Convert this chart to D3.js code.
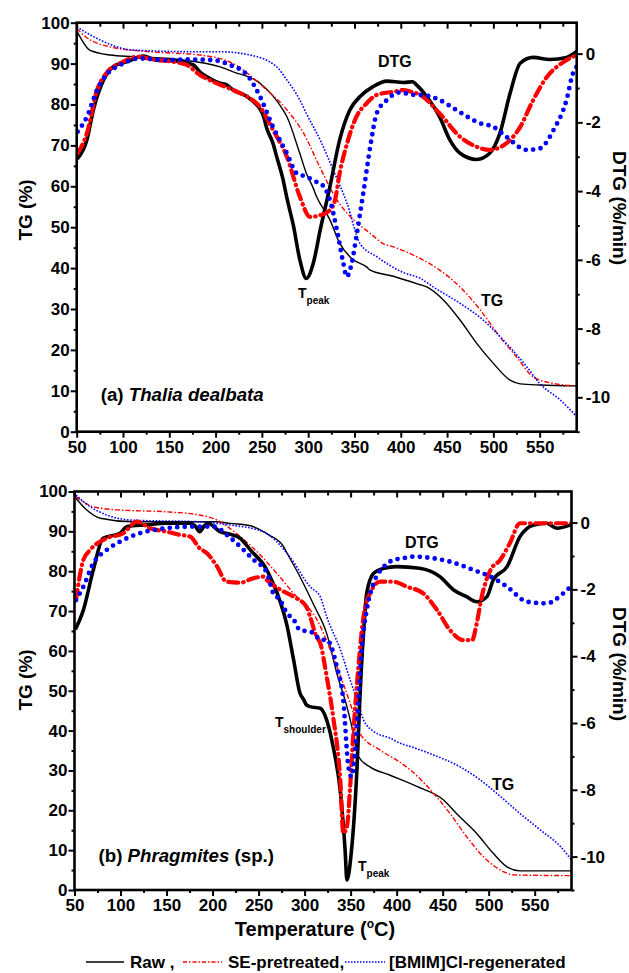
<!DOCTYPE html>
<html>
<head>
<meta charset="utf-8">
<script src="https://cdn.jsdelivr.net/npm/d3@7"></script>
<style>
  body { margin: 0; background: #fff; }
  svg text { font-family: "Liberation Sans", Arial, Helvetica, sans-serif; font-weight: bold; }
</style>
</head>
<body>
<svg id="chart" width="629" height="973"></svg>
<script>
// ---------- data (temperature in degC, TG in %, DTG in %/min) ----------
const tempTicks = [50, 100, 150, 200, 250, 300, 350, 400, 450, 500, 550];
const tgTicks = [0, 10, 20, 30, 40, 50, 60, 70, 80, 90, 100];
const dtgTicks = [-10, -8, -6, -4, -2, 0];
const seriesNames = ['Raw ,', 'SE-pretreated,', '[BMIM]Cl-regenerated'];

// panel (a) Thalia dealbata
const aRawTG = [[50,98.0],[55,96],[64,93.3],[86,92.1],[111,91.7],[165,90.9],[205,89.2],[219,88],[248,85.2],[273,78.6],[277,77],[291,68],[298,63.2],[305,59.8],[309,57.5],[323.5,51.8],[334,46.1],[345,42.8],[349,42],[363,40.3],[367,39.5],[392,38.0],[420,36],[428,35.4],[446,32.2],[464,27.3],[482,21.6],[500,16.7],[518,12.6],[529,11.7],[550,11.4],[590,11.2]];
const aSeTG = [[50,98.6],[60,96.5],[86,94.1],[129,92.9],[183,92.1],[219,90],[251,84.4],[277,78.7],[295,73],[313,64.5],[331,56.7],[349,51.8],[367,48.5],[381,46],[392,45.2],[417,42.8],[442,39.5],[464,35.4],[486,29.7],[507,23.2],[525,18.3],[543,13.4],[565,11.8],[590,11.2]];
const aBmimTG = [[50,99],[75,95.8],[111,93.3],[183,92.9],[205,92.9],[237,92.1],[266,89.2],[277,86],[291,81.1],[298,77.8],[313,71.3],[327,64],[342,55.8],[356,46],[374,42.8],[402,39],[421,37.5],[435,35.4],[464,31.4],[489,27.3],[514,21.6],[536,15.9],[550,11.8],[572,7.8],[590,3.7]];
const aRawDTG = [[51,-3.05],[61,-2.51],[68,-1.64],[79,-0.77],[89.5,-0.38],[104,-0.24],[122,-0.07],[136,-0.19],[155,-0.21],[176,-0.33],[183,-0.53],[197,-0.77],[205,-0.86],[212,-0.91],[219,-1.06],[234,-1.25],[241,-1.4],[252,-1.84],[255,-2.15],[262,-2.61],[266,-3.0],[273,-3.68],[277,-4.2],[284,-5.0],[291,-6.0],[298,-6.54],[305.5,-6.1],[313,-5.13],[323.5,-3.87],[334,-2.51],[345,-1.64],[356,-1.25],[370,-0.96],[385,-0.8],[403,-0.84],[413,-0.82],[417,-0.91],[428,-1.25],[442,-1.84],[453,-2.51],[464,-2.9],[482,-3.08],[496,-2.9],[507,-2.32],[518,-1.16],[529,-0.28],[543,-0.11],[561,-0.17],[579,-0.11],[590,0.06]];
const aSeDTG = [[51,-2.9],[61,-2.32],[72,-1.06],[82,-0.57],[100,-0.24],[115,-0.09],[133,-0.17],[155,-0.24],[169,-0.33],[183,-0.62],[197.5,-0.82],[219,-1.06],[234,-1.25],[248,-1.55],[262,-2.22],[277,-3.0],[291,-4.16],[302,-4.75],[313,-4.7],[323.5,-4.55],[329,-4.26],[334,-3.48],[342,-2.61],[352,-1.84],[363,-1.45],[374,-1.2],[392,-1.11],[403,-1.06],[410,-1.1],[421,-1.2],[442,-1.74],[464,-2.42],[482,-2.71],[496,-2.8],[514,-2.61],[529,-2.13],[543,-1.35],[558,-0.67],[576,-0.24],[586,-0.09],[590,-0.05]];
const aBmimDTG = [[51,-2.27],[61,-1.84],[72,-1.06],[82,-0.62],[97,-0.33],[118,-0.14],[147,-0.19],[169,-0.17],[197.5,-0.19],[215.5,-0.33],[234,-0.62],[248,-1.25],[262,-2.13],[277,-2.9],[287.5,-3.48],[298,-3.58],[309,-3.73],[313,-3.77],[323.5,-4.26],[331,-5.13],[338,-6.1],[341.6,-6.49],[347,-6.1],[352,-5.33],[360,-3.97],[367,-2.71],[374,-1.74],[385,-1.35],[399,-1.13],[414,-1.2],[421,-1.2],[442,-1.35],[460,-1.64],[486,-2.03],[500,-2.13],[514,-2.42],[536,-2.8],[550,-2.76],[565,-2.22],[579,-1.35],[586,-0.57],[590,-0.38]];

// panel (b) Phragmites (sp.)
const bRawTG = [[51.6,98.3],[63,95.4],[78,93.3],[114,92.4],[205,92.4],[219,92],[241,91.4],[262,89],[277,86.2],[281,84.5],[295,78.6],[310,71.5],[324,64.4],[335,54.4],[346,46],[353,39.3],[358.5,33.5],[371,30.9],[393,28.8],[422,26],[451,22.6],[465,19.2],[487,14.2],[505,9.2],[520,5.8],[534,4.8],[590,4.8]];
const bSeTG = [[51.6,98.7],[70,96.2],[96,95.4],[150,94.9],[186,94.1],[205,92.8],[230,88.7],[250,84.5],[273,78.6],[291.5,73.6],[299,72],[313,68],[328,60.2],[342,51.8],[353,44.4],[360,39.3],[382,35.1],[400,32.6],[415,30.1],[440,24.3],[458,19.2],[476,13.4],[494,8.4],[513,5],[527,3.8],[590,3.6]];
const bBmimTG = [[51.6,99.1],[67,96.2],[85,94.1],[114,92.8],[186,92.4],[219,91.6],[255,89.9],[284,83.6],[306,76.1],[317,73.6],[324,68.6],[339,60.2],[349.5,52.7],[357,47.7],[364,42.7],[375,39.8],[393,38.1],[404,36.8],[415,36],[440,33.9],[469,30.9],[491,27.6],[513,23.4],[534,19.2],[556,15.1],[578,10.9],[590,7.5]];
const bRawDTG = [[51.6,-3.16],[59.6,-2.62],[70.4,-1.42],[81,-0.47],[99.5,-0.32],[107,-0.12],[128,-0.07],[150,-0.02],[175,-0.02],[181,-0.1],[186,-0.27],[191,-0.1],[195,-0.02],[208,-0.27],[219,-0.35],[230,-0.47],[241,-0.82],[259,-1.42],[262.5,-1.62],[270,-2.1],[281,-3.1],[288,-4.1],[295,-5.11],[299,-5.3],[302,-5.46],[306,-5.51],[317,-5.56],[324,-5.91],[331,-6.71],[339,-8.1],[344,-9.8],[346,-10.7],[351,-9.8],[357,-7.31],[360,-5.31],[364,-3.31],[367.5,-2.12],[375,-1.52],[386,-1.37],[400,-1.32],[425,-1.37],[447,-1.62],[462,-2.02],[476,-2.22],[487,-2.37],[498,-2.22],[505,-1.72],[520,-1.32],[534,-0.42],[549,-0.07],[563,-0.02],[574,-0.17],[589,-0.07]];
const bSeDTG = [[51.6,-2.32],[59.6,-1.12],[67,-0.82],[85,-0.47],[103,-0.32],[118,0.03],[132,-0.17],[150,-0.27],[165,-0.37],[175.5,-0.42],[186,-0.77],[194,-0.92],[205,-1.32],[215,-1.77],[230,-1.8],[244,-1.67],[255,-1.62],[259,-1.72],[273,-2.0],[288,-2.22],[302,-2.52],[306,-2.82],[313,-3.42],[317,-3.61],[324,-4.61],[331,-5.81],[339,-7.81],[342,-9.3],[346,-9.1],[349.5,-7.91],[353,-6.31],[358.5,-4.31],[364,-2.82],[371,-2.12],[382,-1.77],[396.5,-1.77],[411,-1.92],[429,-2.12],[444,-2.62],[458,-3.22],[472.5,-3.52],[482,-3.52],[487,-3.02],[492.5,-2.22],[502,-1.42],[512.5,-1.12],[523,-0.62],[534,-0.02],[590,-0.02]];
const bBmimDTG = [[51.6,-2.32],[59.6,-1.92],[70.4,-1.22],[85,-0.82],[99.5,-0.57],[121,-0.32],[150,-0.17],[179,-0.12],[201,-0.12],[219,-0.45],[244,-1.1],[259,-1.5],[266,-2.12],[273,-2.3],[281,-2.72],[288,-2.9],[295,-3.22],[302,-3.25],[310,-3.31],[317,-3.51],[324,-3.51],[335,-4.31],[342,-5.31],[347.6,-7.31],[351,-7.61],[355,-6.81],[358.5,-5.31],[362,-3.81],[367.5,-2.62],[375,-1.82],[386,-1.32],[396.5,-1.12],[407,-1.07],[418,-1.02],[440,-1.07],[458,-1.17],[483.5,-1.42],[502,-1.62],[520,-1.92],[541.5,-2.37],[563,-2.42],[581,-2.12],[589,-1.92]];

// ---------- styles ----------
const thinStyles = [
  { color: '#000', width: 1.4, dash: null, cap: 'butt' },
  { color: '#f00', width: 1.4, dash: '5,2,1.5,2', cap: 'butt' },
  { color: '#00f', width: 1.6, dash: '1.6,1.6', cap: 'butt' }
];
const thickStyles = [
  { color: '#000', width: 3.6, dash: null, cap: 'round' },
  { color: '#f00', width: 4.2, dash: '10,5,0.5,5', cap: 'round' },
  { color: '#00f', width: 4.8, dash: '0,7.5', cap: 'round' }
];

const svg = d3.select('#chart');

function drawPanel(p) {
  const x = d3.scaleLinear().domain([50, 590]).range([p.left, p.right]);
  const yL = d3.scaleLinear().domain([0, 100]).range([p.bottom, p.top]);
  const yR = d3.scaleLinear().domain([-11, p.dtgTop]).range([p.bottom, p.top]);

  const g = svg.append('g');

  // clip
  const clipId = 'clip-' + p.id;
  svg.append('clipPath').attr('id', clipId)
    .append('rect')
    .attr('x', p.left).attr('y', p.top)
    .attr('width', p.right - p.left).attr('height', p.bottom - p.top);

  const lines = g.append('g').attr('clip-path', `url(#${clipId})`);

  const tgLine = d3.line().x(d => x(d[0])).y(d => yL(d[1])).curve(d3.curveMonotoneX);
  const dtgLine = d3.line().x(d => x(d[0])).y(d => yR(d[1])).curve(d3.curveMonotoneX);

  // TG curves (thin)
  p.tg.forEach((data, i) => {
    const s = thinStyles[i];
    lines.append('path')
      .attr('d', tgLine(data))
      .attr('fill', 'none')
      .attr('stroke', s.color)
      .attr('stroke-width', s.width)
      .attr('stroke-dasharray', s.dash)
      .attr('stroke-linecap', s.cap);
  });

  // DTG curves (thick)
  p.dtg.forEach((data, i) => {
    const s = thickStyles[i];
    lines.append('path')
      .attr('d', dtgLine(data))
      .attr('fill', 'none')
      .attr('stroke', s.color)
      .attr('stroke-width', s.width)
      .attr('stroke-dasharray', s.dash)
      .attr('stroke-linecap', s.cap)
      .attr('stroke-linejoin', 'round');
  });

  const minorTemp = tempTicks.map(t => t + 25).filter(t => t < 590);
  const minorTG = tgTicks.slice(0, -1).map(t => t + 5);
  const minorDTG = [-11, -9, -7, -5, -3, -1];

  // bottom axis
  const bot = g.append('g').attr('transform', `translate(0,${p.bottom})`);
  bot.call(d3.axisBottom(x).tickValues(minorTemp).tickSize(3).tickFormat(''));
  bot.append('g').call(d3.axisBottom(x).tickValues(tempTicks).tickSize(6).tickPadding(3).tickFormat(d3.format('d')));

  // top axis, ticks inward
  const top = g.append('g').attr('transform', `translate(0,${p.top})`);
  top.call(d3.axisBottom(x).tickValues(minorTemp).tickSize(4).tickFormat(''));
  top.append('g').call(d3.axisBottom(x).tickValues(tempTicks).tickSize(6).tickFormat(''));

  // left axis
  const lft = g.append('g').attr('transform', `translate(${p.left},0)`);
  lft.call(d3.axisLeft(yL).tickValues(minorTG).tickSize(3).tickFormat(''));
  lft.append('g').call(d3.axisLeft(yL).tickValues(tgTicks).tickSize(6).tickPadding(1).tickFormat(d3.format('d')));

  // right axis
  const rgt = g.append('g').attr('transform', `translate(${p.right},0)`);
  rgt.call(d3.axisRight(yR).tickValues(minorDTG).tickSize(3).tickFormat(''));
  rgt.append('g').call(d3.axisRight(yR).tickValues(dtgTicks).tickSize(6).tickPadding(3).tickFormat(d => String(d)));

  g.selectAll('.domain').remove();
  g.selectAll('.tick line').attr('stroke', '#000').attr('stroke-width', 2);
  g.selectAll('.tick text').attr('fill', '#000').attr('font-size', '17px')
    .style('font-family', '"Liberation Sans", Arial, sans-serif').style('font-weight', 'bold');

  // frame
  g.append('rect')
    .attr('x', p.left).attr('y', p.top)
    .attr('width', p.right - p.left).attr('height', p.bottom - p.top)
    .attr('fill', 'none').attr('stroke', '#000').attr('stroke-width', 2.6);

  // axis titles
  g.append('text')
    .attr('transform', `translate(32,${p.tgLabelY}) rotate(-90)`)
    .attr('text-anchor', 'middle')
    .attr('font-size', '19px')
    .text('TG (%)');
  g.append('text')
    .attr('transform', `translate(613,${p.dtgLabelY}) rotate(90)`)
    .attr('text-anchor', 'middle')
    .attr('font-size', '19px')
    .text('DTG (%/min)');

  // annotations
  p.notes.forEach(n => {
    const t = g.append('text')
      .attr('x', n.x).attr('y', n.y)
      .attr('font-size', n.size + 'px');
    t.append('tspan').text(n.text);
    if (n.sub) {
      t.append('tspan').attr('font-size', '10px').attr('dy', 6).text(n.sub);
    }
  });

  // panel title
  const title = g.append('text')
    .attr('x', p.left + 24).attr('y', p.titleY)
    .attr('font-size', '18.7px');
  p.title.forEach(part => {
    title.append('tspan').attr('font-style', part.italic ? 'italic' : 'normal').text(part.text);
  });
}

drawPanel({
  id: 'a', left: 76.7, right: 576.7, top: 22.7, bottom: 431.7, dtgTop: 0.9,
  tg: [aRawTG, aSeTG, aBmimTG], dtg: [aRawDTG, aSeDTG, aBmimDTG],
  tgLabelY: 210, dtgLabelY: 208, titleY: 401,
  title: [{ text: '(a) ' }, { text: 'Thalia dealbata', italic: true }],
  notes: [
    { text: 'DTG', x: 378, y: 67, size: 16 },
    { text: 'T', sub: 'peak', x: 298, y: 298, size: 14 },
    { text: 'TG', x: 481, y: 306, size: 16 }
  ]
});

drawPanel({
  id: 'b', left: 74.5, right: 571.5, top: 491.5, bottom: 890, dtgTop: 0.93,
  tg: [bRawTG, bSeTG, bBmimTG], dtg: [bRawDTG, bSeDTG, bBmimDTG],
  tgLabelY: 680, dtgLabelY: 664, titleY: 862,
  title: [{ text: '(b) ' }, { text: 'Phragmites', italic: true }, { text: ' (sp.)' }],
  notes: [
    { text: 'DTG', x: 405, y: 548, size: 16 },
    { text: 'T', sub: 'shoulder', x: 275, y: 727, size: 14 },
    { text: 'T', sub: 'peak', x: 358, y: 871, size: 14 },
    { text: 'TG', x: 492, y: 790, size: 16 }
  ]
});

// x axis title
const xt = svg.append('text')
  .attr('x', 315).attr('y', 936)
  .attr('text-anchor', 'middle')
  .attr('font-size', '20px');
xt.append('tspan').text('Temperature (');
xt.append('tspan').attr('font-size', '12px').attr('dy', -8).text('o');
xt.append('tspan').attr('dy', 8).text('C)');

// legend
const legendPos = [
  { x1: 86, x2: 124, tx: 130 },
  { x1: 183, x2: 222, tx: 228 },
  { x1: 345, x2: 385, tx: 389 }
];
const legendStyles = [
  { color: '#000', dash: null },
  { color: '#f00', dash: '4,2,1.5,2' },
  { color: '#00f', dash: '1.5,1.5' }
];
seriesNames.forEach((name, i) => {
  const lp = legendPos[i];
  svg.append('line')
    .attr('x1', lp.x1).attr('x2', lp.x2)
    .attr('y1', 962).attr('y2', 962)
    .attr('stroke', legendStyles[i].color)
    .attr('stroke-width', 1.5)
    .attr('stroke-dasharray', legendStyles[i].dash);
  svg.append('text')
    .attr('x', lp.tx).attr('y', 968)
    .attr('font-size', '17px')
    .text(name);
});
</script>
</body>
</html>
